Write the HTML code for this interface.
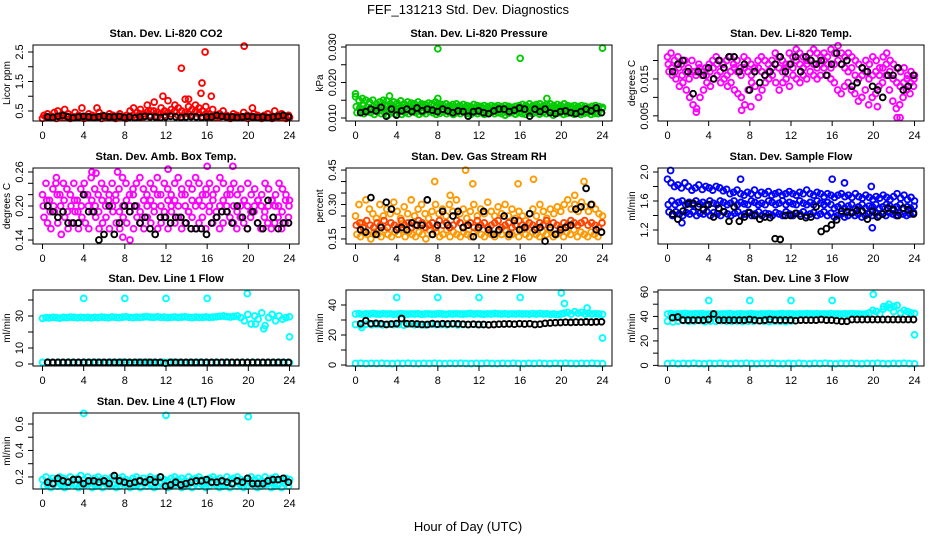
<!DOCTYPE html>
<html><head><meta charset="utf-8"><style>
html,body{margin:0;padding:0;background:#fff;}
svg text{font-family:"Liberation Sans",sans-serif;}
</style></head><body>
<svg id="chart" width="936" height="540" viewBox="0 0 936 540" xmlns="http://www.w3.org/2000/svg">
<text x="468" y="14" text-anchor="middle" font-size="13">FEF_131213  Std. Dev. Diagnostics</text>
<text x="468" y="531" text-anchor="middle" font-size="13">Hour of Day (UTC)</text>
</svg>
<script>
// ---------- data ----------
const hourTicks = [0,4,8,12,16,20,24];
// Panel 1: CO2
const co2A = [0.35,0.4,0.3,0.45,0.5,0.35,0.55,0.4,0.3,0.45,0.35,0.6,0.3,0.4,0.35,0.3,0.45,0.35,0.3,0.4,0.35,0.3,0.4,0.3,0.35,0.5,0.6,0.45,0.55,0.4,0.7,0.5,0.8,0.45,0.6,0.5,0.85,0.55,0.7,0.6,0.5,0.9,0.65,0.55,0.7,0.6,0.5,0.65,0.4,0.55,0.35,0.4,0.5,0.35,0.3,0.4,0.35,0.3,0.45,0.35,0.3,0.4,0.35,0.3,0.35,0.4,0.3,0.5,0.35,0.4,0.3,0.35];
const co2B = [0.25,0.3,0.28,0.3,0.25,0.3,0.28,0.32,0.25,0.3,0.28,0.3,0.25,0.3,0.28,0.27,0.3,0.25,0.3,0.28,0.3,0.25,0.28,0.3,0.25,0.32,0.35,0.3,0.4,0.3,0.45,0.35,0.5,0.3,0.4,0.35,0.45,0.4,0.5,0.35,0.3,0.45,0.4,0.35,0.5,0.4,0.3,0.4,0.3,0.35,0.28,0.3,0.32,0.28,0.25,0.3,0.27,0.28,0.3,0.25,0.28,0.3,0.27,0.25,0.3,0.28,0.25,0.3,0.27,0.3,0.25,0.28];
const co2OutH = [13.5,15.8,15.5,16.4,15.4,19.6,11.7,14.2,20.4,5.3];
const co2OutV = [1.95,2.5,1.45,1.0,1.1,2.7,1.0,0.9,0.6,0.6];
const co2Black = [0.3,0.28,0.32,0.35,0.3,0.27,0.3,0.32,0.3,0.28,0.3,0.33,0.3,0.3,0.32,0.28,0.3,0.27,0.3,0.32,0.3,0.3,0.28,0.3,0.32,0.3,0.28,0.3,0.31,0.3,0.28,0.3,0.3,0.35,0.32,0.3,0.3,0.28,0.3,0.32,0.3,0.28,0.3,0.27,0.3,0.32,0.35,0.3];
// Panel 2: Pressure
const presA = [0.016,0.015,0.0155,0.015,0.0145,0.015,0.014,0.0145,0.015,0.0148,0.014,0.0145,0.0142,0.0148,0.014,0.0145,0.0142,0.014,0.0145,0.014,0.0138,0.0142,0.014,0.0145,0.014,0.0138,0.014,0.0135,0.0138,0.014,0.0135,0.0138,0.0135,0.0133,0.0138,0.0135,0.0133,0.0135,0.0132,0.0135,0.0133,0.0135,0.0132,0.0135,0.0133,0.013,0.0133,0.0135,0.0138,0.0135,0.014,0.0135,0.0138,0.014,0.0135,0.0138,0.014,0.0135,0.0138,0.0135,0.014,0.0135,0.0133,0.0135,0.0132,0.0135,0.0133,0.013,0.0133,0.0135,0.0132,0.013];
const presB = [0.0115,0.012,0.0112,0.0118,0.0115,0.011,0.0118,0.0112,0.0115,0.0108,0.0115,0.0112,0.0118,0.011,0.0115,0.0112,0.0118,0.0115,0.011,0.0115,0.0112,0.0118,0.0115,0.011,0.0113,0.0117,0.0112,0.0115,0.011,0.0115,0.0112,0.0117,0.0113,0.011,0.0115,0.0112,0.0115,0.011,0.0113,0.0116,0.0112,0.0115,0.0112,0.0108,0.0113,0.0115,0.0111,0.0115,0.0112,0.011,0.0115,0.0112,0.0116,0.0111,0.0115,0.0112,0.0115,0.0108,0.0113,0.0115,0.011,0.0113,0.0115,0.0111,0.0114,0.011,0.0113,0.0115,0.011,0.0113,0.0112,0.0115];
const presC = [0.0132,0.0128,0.0135,0.013,0.0126,0.0133,0.0128,0.0131,0.0127,0.0134,0.0129,0.0126,0.0132,0.0128,0.013,0.0125,0.0131,0.0128,0.0126,0.013,0.0127,0.0129,0.0125,0.0128,0.013,0.0126,0.0128,0.0125,0.0129,0.0127,0.0125,0.0128,0.0126,0.0124,0.0127,0.0125,0.0128,0.0126,0.0124,0.0127,0.0125,0.0128,0.0126,0.0124,0.0127,0.0125,0.0123,0.0126,0.0128,0.0125,0.0127,0.0124,0.0126,0.0128,0.0125,0.0127,0.0124,0.0126,0.0128,0.0125,0.0127,0.0124,0.0126,0.0123,0.0125,0.0127,0.0124,0.0126,0.0123,0.0125,0.0124,0.0126];
const presOutH = [8,16,24,0,3.3,8,18.6];
const presOutV = [0.0295,0.0268,0.0297,0.0168,0.0162,0.0155,0.0155];
const presBlack = [0.0115,0.0118,0.0125,0.012,0.013,0.0105,0.0125,0.0108,0.012,0.0125,0.0118,0.0128,0.012,0.0125,0.0122,0.0118,0.0125,0.012,0.0115,0.012,0.0118,0.0105,0.0118,0.012,0.0115,0.0112,0.012,0.0125,0.0125,0.0118,0.0122,0.0128,0.0125,0.0105,0.0125,0.0118,0.0125,0.0115,0.0112,0.0118,0.012,0.0115,0.0112,0.0118,0.0125,0.012,0.0128,0.0115];
// Panel 3: Li-820 Temp
const tempA = [0.021,0.022,0.02,0.021,0.019,0.02,0.018,0.02,0.017,0.019,0.016,0.018,0.019,0.02,0.021,0.02,0.019,0.02,0.021,0.019,0.02,0.018,0.021,0.02,0.019,0.018,0.02,0.021,0.02,0.019,0.02,0.022,0.021,0.02,0.019,0.022,0.021,0.023,0.022,0.021,0.02,0.022,0.023,0.022,0.021,0.022,0.021,0.023,0.022,0.024,0.022,0.021,0.022,0.021,0.02,0.019,0.018,0.02,0.019,0.021,0.02,0.018,0.021,0.022,0.02,0.019,0.018,0.017,0.018,0.016,0.017,0.016];
const tempB = [0.017,0.016,0.015,0.013,0.014,0.012,0.01,0.008,0.007,0.01,0.012,0.014,0.013,0.015,0.016,0.014,0.015,0.013,0.014,0.012,0.011,0.01,0.008,0.012,0.014,0.013,0.01,0.012,0.014,0.015,0.016,0.014,0.012,0.014,0.015,0.013,0.016,0.015,0.014,0.016,0.015,0.017,0.016,0.015,0.016,0.018,0.016,0.015,0.014,0.012,0.011,0.013,0.014,0.012,0.011,0.009,0.01,0.012,0.008,0.01,0.011,0.013,0.014,0.016,0.012,0.009,0.007,0.008,0.01,0.012,0.011,0.013];
const tempC = [0.019,0.018,0.017,0.018,0.016,0.017,0.015,0.017,0.016,0.018,0.017,0.016,0.017,0.018,0.019,0.017,0.018,0.016,0.017,0.018,0.017,0.016,0.018,0.017,0.016,0.017,0.018,0.017,0.016,0.017,0.018,0.019,0.018,0.017,0.018,0.019,0.018,0.02,0.019,0.018,0.019,0.02,0.019,0.018,0.019,0.02,0.019,0.018,0.019,0.02,0.019,0.018,0.017,0.018,0.016,0.015,0.016,0.017,0.015,0.016,0.017,0.016,0.018,0.019,0.017,0.015,0.014,0.013,0.014,0.015,0.014,0.015];
const tempOutH = [2.8,7.2,8.1,22.3,22.6,20.4];
const tempOutV = [0.006,0.0065,0.0075,0.0045,0.0045,0.0075];
const tempBlack = [0.017,0.019,0.02,0.017,0.011,0.017,0.016,0.018,0.015,0.02,0.018,0.021,0.021,0.017,0.019,0.012,0.017,0.014,0.016,0.017,0.019,0.021,0.017,0.019,0.021,0.017,0.021,0.02,0.019,0.02,0.016,0.019,0.022,0.019,0.02,0.013,0.014,0.018,0.017,0.013,0.012,0.01,0.016,0.016,0.018,0.012,0.013,0.016];
// Panel 4: Amb box temp
const ambA = [0.22,0.24,0.21,0.23,0.25,0.22,0.24,0.23,0.22,0.24,0.21,0.23,0.24,0.22,0.25,0.23,0.22,0.24,0.23,0.21,0.24,0.22,0.23,0.25,0.24,0.22,0.23,0.24,0.25,0.23,0.22,0.24,0.23,0.25,0.22,0.24,0.23,0.22,0.24,0.25,0.23,0.22,0.24,0.23,0.25,0.24,0.22,0.23,0.24,0.22,0.23,0.25,0.24,0.22,0.23,0.24,0.22,0.23,0.21,0.24,0.22,0.23,0.21,0.22,0.24,0.23,0.21,0.22,0.24,0.23,0.22,0.21];
const ambB = [0.18,0.17,0.16,0.19,0.17,0.15,0.18,0.16,0.17,0.19,0.16,0.18,0.17,0.16,0.19,0.18,0.16,0.17,0.18,0.16,0.19,0.17,0.16,0.18,0.17,0.19,0.16,0.18,0.17,0.16,0.18,0.17,0.19,0.16,0.17,0.18,0.16,0.19,0.17,0.18,0.16,0.17,0.19,0.18,0.16,0.17,0.18,0.16,0.19,0.17,0.18,0.16,0.17,0.19,0.18,0.17,0.16,0.18,0.17,0.16,0.18,0.19,0.17,0.16,0.18,0.17,0.16,0.17,0.18,0.16,0.17,0.18];
const ambC = [0.2,0.21,0.19,0.2,0.22,0.2,0.21,0.19,0.2,0.21,0.19,0.2,0.22,0.2,0.21,0.2,0.19,0.21,0.2,0.22,0.2,0.21,0.19,0.2,0.21,0.2,0.22,0.2,0.19,0.21,0.2,0.21,0.2,0.22,0.2,0.19,0.21,0.2,0.21,0.2,0.22,0.2,0.19,0.21,0.2,0.21,0.2,0.22,0.2,0.21,0.19,0.2,0.21,0.2,0.22,0.2,0.19,0.2,0.21,0.2,0.19,0.2,0.21,0.2,0.19,0.2,0.21,0.2,0.2,0.19,0.21,0.2];
const ambOutH = [4.8,5.2,7.3,12.2,16,18.5,8.5,7.8,1.3];
const ambOutV = [0.26,0.258,0.26,0.265,0.27,0.27,0.14,0.145,0.24];
const ambBlack = [0.2,0.19,0.18,0.19,0.17,0.17,0.17,0.22,0.19,0.19,0.14,0.15,0.2,0.15,0.17,0.2,0.19,0.2,0.17,0.18,0.16,0.15,0.18,0.18,0.17,0.18,0.18,0.17,0.16,0.16,0.16,0.15,0.17,0.18,0.19,0.19,0.17,0.2,0.18,0.16,0.19,0.17,0.16,0.21,0.18,0.16,0.17,0.17];
// Panel 5: RH
const rhA = [0.25,0.3,0.22,0.32,0.28,0.26,0.24,0.3,0.25,0.28,0.26,0.31,0.27,0.24,0.29,0.26,0.32,0.25,0.28,0.3,0.26,0.24,0.27,0.3,0.26,0.28,0.25,0.3,0.27,0.32,0.26,0.28,0.24,0.27,0.3,0.25,0.28,0.26,0.31,0.27,0.25,0.29,0.26,0.3,0.25,0.28,0.24,0.27,0.25,0.23,0.26,0.28,0.25,0.3,0.27,0.24,0.28,0.26,0.29,0.27,0.3,0.32,0.28,0.3,0.27,0.31,0.29,0.27,0.3,0.28,0.26,0.25];
const rhB = [0.17,0.16,0.18,0.17,0.15,0.18,0.17,0.16,0.19,0.17,0.16,0.18,0.17,0.19,0.16,0.18,0.17,0.16,0.18,0.17,0.15,0.19,0.17,0.18,0.16,0.17,0.19,0.16,0.18,0.17,0.16,0.18,0.17,0.16,0.18,0.19,0.17,0.16,0.18,0.17,0.16,0.18,0.17,0.19,0.16,0.17,0.18,0.16,0.19,0.17,0.16,0.18,0.17,0.16,0.18,0.17,0.19,0.16,0.17,0.18,0.16,0.18,0.17,0.19,0.16,0.18,0.17,0.16,0.18,0.17,0.16,0.18];
const rhC = [0.21,0.22,0.2,0.23,0.21,0.2,0.22,0.21,0.23,0.2,0.22,0.21,0.2,0.23,0.21,0.22,0.2,0.21,0.23,0.22,0.2,0.21,0.22,0.2,0.23,0.21,0.22,0.2,0.21,0.23,0.22,0.2,0.21,0.22,0.2,0.23,0.21,0.22,0.2,0.21,0.22,0.23,0.2,0.21,0.22,0.2,0.21,0.23,0.21,0.2,0.22,0.21,0.2,0.22,0.21,0.23,0.2,0.22,0.21,0.2,0.22,0.21,0.23,0.22,0.21,0.22,0.23,0.21,0.22,0.21,0.2,0.22];
const rhOutH = [7.7,10.7,11.4,15.8,17.3,22.2,9.2,21.3];
const rhOutV = [0.4,0.45,0.39,0.39,0.41,0.4,0.34,0.34];
const rhBlack = [0.19,0.18,0.33,0.17,0.2,0.31,0.28,0.19,0.2,0.19,0.22,0.21,0.21,0.32,0.17,0.21,0.27,0.21,0.25,0.27,0.2,0.21,0.16,0.2,0.27,0.19,0.17,0.19,0.25,0.17,0.23,0.19,0.2,0.26,0.19,0.2,0.14,0.2,0.17,0.19,0.2,0.21,0.28,0.29,0.37,0.3,0.19,0.18];
// Panel 6: Sample flow
const sfA = [1.9,1.85,1.8,1.82,1.78,1.85,1.8,1.75,1.78,1.82,1.76,1.8,1.78,1.75,1.8,1.78,1.74,1.76,1.7,1.72,1.75,1.7,1.68,1.72,1.7,1.75,1.68,1.72,1.7,1.73,1.68,1.7,1.72,1.68,1.7,1.73,1.7,1.68,1.72,1.7,1.75,1.7,1.68,1.72,1.7,1.66,1.7,1.68,1.65,1.68,1.7,1.66,1.68,1.65,1.7,1.66,1.64,1.68,1.65,1.62,1.66,1.64,1.68,1.65,1.62,1.66,1.7,1.64,1.68,1.62,1.65,1.6];
const sfB = [1.45,1.4,1.45,1.42,1.4,1.44,1.42,1.45,1.4,1.43,1.42,1.45,1.4,1.44,1.42,1.4,1.45,1.42,1.4,1.43,1.45,1.4,1.42,1.44,1.4,1.42,1.45,1.4,1.43,1.42,1.4,1.44,1.42,1.4,1.45,1.42,1.4,1.43,1.42,1.45,1.4,1.42,1.44,1.4,1.42,1.45,1.4,1.43,1.38,1.4,1.42,1.38,1.4,1.43,1.4,1.42,1.38,1.4,1.42,1.4,1.43,1.4,1.42,1.4,1.44,1.42,1.4,1.43,1.42,1.4,1.42,1.44];
const sfC = [1.55,1.6,1.55,1.58,1.6,1.55,1.58,1.55,1.6,1.56,1.58,1.55,1.6,1.57,1.55,1.6,1.58,1.55,1.57,1.6,1.55,1.58,1.56,1.55,1.6,1.58,1.55,1.57,1.55,1.6,1.58,1.55,1.57,1.6,1.55,1.58,1.56,1.55,1.6,1.57,1.55,1.58,1.55,1.6,1.57,1.55,1.58,1.55,1.5,1.52,1.55,1.5,1.53,1.55,1.5,1.52,1.55,1.5,1.53,1.52,1.55,1.5,1.52,1.55,1.53,1.5,1.52,1.55,1.5,1.52,1.5,1.53];
const sfOutH = [0.3,7.1,16,19.8,19.9,1.4,17.2];
const sfOutV = [2.02,1.9,1.9,1.8,1.23,1.3,1.85];
const sfBlack = [1.42,1.35,1.46,1.56,1.57,1.52,1.48,1.55,1.38,1.5,1.45,1.32,1.52,1.32,1.38,1.44,1.4,1.35,1.38,1.37,1.08,1.07,1.4,1.4,1.43,1.39,1.37,1.38,1.52,1.18,1.22,1.27,1.34,1.46,1.45,1.44,1.47,1.46,1.35,1.46,1.38,1.42,1.5,1.48,1.4,1.5,1.48,1.42];
// Panel 7: Line 1 flow
const l1A = [28.5,29,28.8,29.2,29,28.7,29.1,29,29.3,29.1,28.9,29.2,29,29.1,28.8,29.2,29,29.3,29.1,28.9,29.4,29.2,29,29.3,29.5,29.2,29,29.3,29.1,29.4,29.6,29.3,29.2,29.5,29.1,29.3,29,29.2,29.4,29.1,29.3,29.5,29.2,29,29.3,29.1,29.2,29.4,29.1,29.3,29.5,29.8,30,29.6,29.4,29.7,30,29,27,31,25,30,28,32,24,29,31,27,30,28,29,29.5];
const l1Low = [1,1.2,0.9,1.1,1,1.2,1,0.9,1.1,1,1.2,1,0.9,1.1,1,1.2,1,0.9,1.1,1,1.2,1,0.9,1.1,1,1.2,1,0.9,1.1,1,1.2,1,0.9,1.1,1,1.2,1,0.9,1.1,1,1.2,1,0.9,1.1,1,1.2,1,0.9];
const l1OutH = [4,8,12,16,19.9,24,21.5,20.7];
const l1OutV = [41,41,41,41,44,17,22,25];
const l1Black = [1,1,1,1,1,1,1,1,1,1,1,1,1,1,1,1,1,1,1,1,1,1,1,0.5,1,1,1,1,1,1,1,1,1,1,1,1,1,1,1,1,1,1,1,1,1,1,1,1];
// Panel 8: Line 2 flow
const l2A = [34,34.2,33.8,34.1,34,34.3,34,33.9,34.2,34,34.1,33.8,34,34.2,34,33.9,34.1,34,34.2,33.8,34,34.1,33.9,34,34.2,34,33.8,34.1,34,34.2,34,33.9,34.1,34.3,34,34.2,34,33.9,34.1,34,34.3,34.1,34,34.2,33.9,34.1,34,34.2,34,34.1,33.9,34.2,34,34.3,34,34.1,33.8,34,33.5,34,34.5,35,34,35.5,34.5,35,34,34.5,34,34.2,34,33.8];
const l2B = [27,26.5,27.2,26.8,27,26.7,27.1,26.9,27,26.6,27.2,26.8,27,26.7,27.1,26.9,27,26.8,27.2,26.7,27,26.9,27.1,26.8];
const l2Low = [1,1.2,0.9,1.1,1,1.2,1,0.9,1.1,1,1.2,1,0.9,1.1,1,1.2,1,0.9,1.1,1,1.2,1,0.9,1.1,1,1.2,1,0.9,1.1,1,1.2,1,0.9,1.1,1,1.2,1,0.9,1.1,1,1.2,1,0.9,1.1,1,1.2,1,0.9];
const l2OutH = [4,8,12,16,20,20.3,22.5,24,0.6];
const l2OutV = [45,45,45,45,48,41,38,18,25];
const l2Black = [27.5,29.5,27.5,27.8,27.5,27,27.3,27.6,31,27.5,27.5,27.3,27,27,27.6,27.2,27.5,27.3,27.5,27.4,27.2,27,27.2,27,27,26.8,27,27.2,27.3,27.4,27.2,27.5,27.3,27.5,27,27.2,27.8,28,28.2,28.3,28.5,28.4,28.6,28.5,28.7,28.6,28.7,28.8];
// Panel 9: Line 3 flow
const l3A = [42,42.3,41.8,42.1,42,42.4,42,41.9,42.2,42,42.3,41.8,42,42.2,42,41.9,42.1,42,42.3,41.8,42,42.2,41.9,42,42.3,42,41.8,42.1,42,42.2,42,41.9,42.1,42.3,42,42.2,42,41.9,42.1,42,42.3,42.1,42,42.2,41.9,42.1,42,42.3,42,42.1,41.9,42.2,42,42.3,42,42.1,41.8,42,43,45,44,42,46,48,47,44,49,43,45,44,43,42.5];
const l3B = [36,35.5,36.2,36.5,36,36.3,36.5,35.8,36.2,36,36.4,36.1,36,36.3,35.9,36.2,36,36.4,36.1,35.8,36.2,36,35.8,36.3];
const l3Low = [1.5,1.8,1.3,1.6,1.5,1.8,1.5,1.3,1.6,1.5,1.8,1.5,1.3,1.6,1.5,1.8,1.5,1.3,1.6,1.5,1.8,1.5,1.3,1.6,1.5,1.8,1.5,1.3,1.6,1.5,1.8,1.5,1.3,1.6,1.5,1.8,1.5,1.3,1.6,1.5,1.8,1.5,1.3,1.6,1.5,1.8,1.5,1.3];
const l3OutH = [4,8,12,16,20,21,21.5,22,24];
const l3OutV = [53,53,53,53,58,48,50,48,25];
const l3Black = [39,39.5,37,37,37,37,37,37.5,42,37,37,37,37,37,37,37.5,37,36.5,37,37.5,37,37,37,37,36.5,37,37,37,37,37.5,37,37,36.5,36,36,37.5,37.5,37.5,37.5,37.5,37.5,37.5,37.5,37.5,37.5,37.5,37.5,37.5];
// Panel 10: Line 4 (LT) flow
const l4A = [0.18,0.2,0.17,0.19,0.18,0.2,0.19,0.17,0.2,0.18,0.19,0.21,0.18,0.2,0.17,0.19,0.2,0.18,0.19,0.17,0.2,0.18,0.19,0.2,0.18,0.17,0.19,0.2,0.18,0.19,0.17,0.2,0.18,0.19,0.2,0.18,0.17,0.19,0.2,0.18,0.19,0.17,0.2,0.18,0.19,0.2,0.18,0.17,0.19,0.2,0.18,0.19,0.17,0.2,0.18,0.19,0.2,0.18,0.17,0.19,0.2,0.18,0.19,0.17,0.2,0.18,0.19,0.2,0.18,0.17,0.19,0.18];
const l4B = [0.13,0.14,0.12,0.15,0.13,0.14,0.12,0.13,0.15,0.14,0.12,0.13,0.14,0.15,0.12,0.13,0.14,0.12,0.15,0.13,0.14,0.12,0.13,0.15,0.14,0.12,0.13,0.14,0.12,0.15,0.13,0.14,0.12,0.13,0.15,0.14,0.12,0.13,0.14,0.15,0.12,0.13,0.14,0.12,0.15,0.13,0.14,0.12,0.13,0.15,0.14,0.12,0.13,0.14,0.12,0.15,0.13,0.14,0.12,0.13,0.15,0.14,0.12,0.13,0.14,0.15,0.12,0.13,0.14,0.12,0.15,0.13];
const l4OutH = [4,12,20];
const l4OutV = [0.68,0.665,0.655];
const l4Black = [0.16,0.15,0.19,0.17,0.16,0.18,0.18,0.15,0.17,0.17,0.16,0.17,0.15,0.21,0.17,0.16,0.15,0.16,0.17,0.16,0.18,0.16,0.2,0.13,0.14,0.16,0.14,0.15,0.16,0.17,0.17,0.18,0.16,0.16,0.17,0.16,0.15,0.17,0.16,0.19,0.15,0.15,0.15,0.17,0.18,0.18,0.19,0.16];

// ---------- layout (not data) ----------
const NS = 'http://www.w3.org/2000/svg';
const svg = document.getElementById('chart');
const colLeft = [33, 346, 658];
const rowTop = [45, 168, 290, 413];
const BOX_W = 266, BOX_H = 76;
const PT_R = 2.9, PT_W = 1.9;

function mk(tag, attrs, parent) {
  const el = document.createElementNS(NS, tag);
  for (const k in attrs) el.setAttribute(k, attrs[k]);
  (parent || svg).appendChild(el);
  return el;
}

function drawPanel(p) {
  const g = mk('g', {});
  
  
  const L = colLeft[p.col], T = rowTop[p.row], B = T + BOX_H;
  const xs = h => L + 9.5 + h * 247 / 24;
  const ys = v => B - (v - p.yMin) / (p.yMax - p.yMin) * BOX_H;
  const title = mk('text', {x: L + BOX_W / 2, y: T - 8, 'text-anchor': 'middle', 'font-size': 11, 'font-weight': 'bold'}, g);
  title.textContent = p.title;
  
  
  const pts = mk('g', {fill: 'none', 'stroke-width': PT_W}, g);
  
  
  function series(vals, color, h0, h1) {
    const n = vals.length;
    vals.forEach((v, i) => {
      const h = h0 + (n > 1 ? i * (h1 - h0) / (n - 1) : 0);
      const c = mk('circle', {cx: xs(h).toFixed(1), cy: ys(v).toFixed(1), r: PT_R, stroke: color}, pts);
      
      
    });
  }
  p.series.forEach(s => series(s.vals, s.color, s.h0, s.h1));
  p.outH.forEach((h, i) => {
    const c = mk('circle', {cx: xs(h).toFixed(1), cy: ys(p.outV[i]).toFixed(1), r: PT_R, stroke: p.outColor}, pts);
    
    
  });
  series(p.black, '#000', 0.5, 23.9);
  const box = mk('rect', {x: L, y: T, width: BOX_W, height: BOX_H, fill: 'none', stroke: '#000', 'stroke-width': 1}, g);
  
  
  hourTicks.forEach(h => {
    mk('line', {x1: xs(h), x2: xs(h), y1: B, y2: B + 5, stroke: '#000'}, g);
    const t = mk('text', {x: xs(h), y: B + 18, 'text-anchor': 'middle', 'font-size': 11}, g);
    t.textContent = h;
    
    
  });
  mk('line', {x1: xs(0), x2: xs(24), y1: B, y2: B, stroke: '#000'}, g);
  p.yTicks.forEach((v, i) => {
    mk('line', {x1: L, x2: L - 5, y1: ys(v), y2: ys(v), stroke: '#000'}, g);
    if (p.yLabels[i]) {
      const t = mk('text', {x: 0, y: 0, 'text-anchor': 'middle', 'font-size': 11,
        transform: `translate(${L - 10},${ys(v)}) rotate(-90)`}, g);
      t.textContent = p.yLabels[i];
      
      
    }
  });
  const yt = mk('text', {x: 0, y: 0, 'text-anchor': 'middle', 'font-size': 10,
    transform: `translate(${L - 23},${T + BOX_H / 2}) rotate(-90)`}, g);
  yt.textContent = p.yTitle;
  
  
}

const panels = [
  {name:'panel-co2', title:'Stan. Dev. Li-820 CO2', col:0,row:0, yMin:0.161,yMax:2.737, yTitle:'Licor ppm',
   yTicks:[0.5,1,1.5,2,2.5], yLabels:['0.5','','1.5','','2.5'],
   series:[{vals:co2B,color:'#f00',h0:0,h1:24},{vals:co2A,color:'#f00',h0:0.15,h1:23.9}], outH:co2OutH,outV:co2OutV,outColor:'#f00', black:co2Black},
  {name:'panel-pressure', title:'Stan. Dev. Li-820 Pressure', col:1,row:0, yMin:0.00915,yMax:0.03056, yTitle:'kPa',
   yTicks:[0.01,0.015,0.02,0.025,0.03], yLabels:['0.010','','0.020','','0.030'],
   series:[{vals:presA,color:'#0c0',h0:0,h1:24},{vals:presB,color:'#0c0',h0:0.15,h1:23.9},{vals:presC,color:'#0c0',h0:0.08,h1:23.95}], outH:presOutH,outV:presOutV,outColor:'#0c0', black:presBlack},
  {name:'panel-li820-temp', title:'Stan. Dev. Li-820 Temp.', col:2,row:0, yMin:0.0036,yMax:0.0242, yTitle:'degrees C',
   yTicks:[0.005,0.01,0.015,0.02], yLabels:['0.005','','0.015',''],
   series:[{vals:tempA,color:'#f0f',h0:0,h1:24},{vals:tempB,color:'#f0f',h0:0.15,h1:23.9},{vals:tempC,color:'#f0f',h0:0.08,h1:23.95}], outH:tempOutH,outV:tempOutV,outColor:'#f0f', black:tempBlack},
  {name:'panel-amb-box-temp', title:'Stan. Dev. Amb. Box Temp.', col:0,row:1, yMin:0.133,yMax:0.267, yTitle:'degrees C',
   yTicks:[0.14,0.16,0.18,0.2,0.22,0.24,0.26], yLabels:['0.14','','','0.20','','','0.26'],
   series:[{vals:ambA,color:'#f0f',h0:0,h1:24},{vals:ambB,color:'#f0f',h0:0.15,h1:23.9},{vals:ambC,color:'#f0f',h0:0.08,h1:23.95}], outH:ambOutH,outV:ambOutV,outColor:'#f0f', black:ambBlack},
  {name:'panel-gas-stream-rh', title:'Stan. Dev. Gas Stream RH', col:1,row:1, yMin:0.128,yMax:0.459, yTitle:'percent',
   yTicks:[0.15,0.2,0.25,0.3,0.35,0.4,0.45], yLabels:['0.15','','','0.30','','','0.45'],
   series:[{vals:rhA,color:'#f90',h0:0,h1:24},{vals:rhB,color:'#f90',h0:0.15,h1:23.9},{vals:rhC,color:'#f40',h0:0.08,h1:23.95}], outH:rhOutH,outV:rhOutV,outColor:'#f90', black:rhBlack},
  {name:'panel-sample-flow', title:'Stan. Dev. Sample Flow', col:2,row:1, yMin:1.007,yMax:2.055, yTitle:'ml/min',
   yTicks:[1.2,1.4,1.6,1.8,2.0], yLabels:['1.2','','1.6','','2.0'],
   series:[{vals:sfA,color:'#00f',h0:0,h1:24},{vals:sfB,color:'#00f',h0:0.15,h1:23.9},{vals:sfC,color:'#00f',h0:0.08,h1:23.95}], outH:sfOutH,outV:sfOutV,outColor:'#00f', black:sfBlack},
  {name:'panel-line1-flow', title:'Stan. Dev. Line 1 Flow', col:0,row:2, yMin:-1.25,yMax:46.25, yTitle:'ml/min',
   yTicks:[0,10,20,30,40], yLabels:['0','10','','30',''],
   series:[{vals:l1A,color:'#0ff',h0:0,h1:24},{vals:l1Low,color:'#0ff',h0:0,h1:24}], outH:l1OutH,outV:l1OutV,outColor:'#0ff', black:l1Black},
  {name:'panel-line2-flow', title:'Stan. Dev. Line 2 Flow', col:1,row:2, yMin:-0.67,yMax:50, yTitle:'ml/min',
   yTicks:[0,10,20,30,40], yLabels:['0','','20','','40'],
   series:[{vals:l2A,color:'#0ff',h0:0,h1:24},{vals:l2B,color:'#0ff',h0:0,h1:12},{vals:l2Low,color:'#0ff',h0:0,h1:24}], outH:l2OutH,outV:l2OutV,outColor:'#0ff', black:l2Black},
  {name:'panel-line3-flow', title:'Stan. Dev. Line 3 Flow', col:2,row:2, yMin:-0.5,yMax:61.6, yTitle:'ml/min',
   yTicks:[0,10,20,30,40,50,60], yLabels:['0','','20','','40','','60'],
   series:[{vals:l3A,color:'#0ff',h0:0,h1:24},{vals:l3B,color:'#0ff',h0:0,h1:12},{vals:l3Low,color:'#0ff',h0:0,h1:24}], outH:l3OutH,outV:l3OutV,outColor:'#0ff', black:l3Black},
  {name:'panel-line4-flow', title:'Stan. Dev. Line 4 (LT) Flow', col:0,row:3, yMin:0.109,yMax:0.683, yTitle:'ml/min',
   yTicks:[0.2,0.3,0.4,0.5,0.6], yLabels:['0.2','','0.4','','0.6'],
   series:[{vals:l4A,color:'#0ff',h0:0,h1:24},{vals:l4B,color:'#0ff',h0:0.15,h1:23.9}], outH:l4OutH,outV:l4OutV,outColor:'#0ff', black:l4Black}
];
panels.forEach(drawPanel);
</script>
</body></html>
